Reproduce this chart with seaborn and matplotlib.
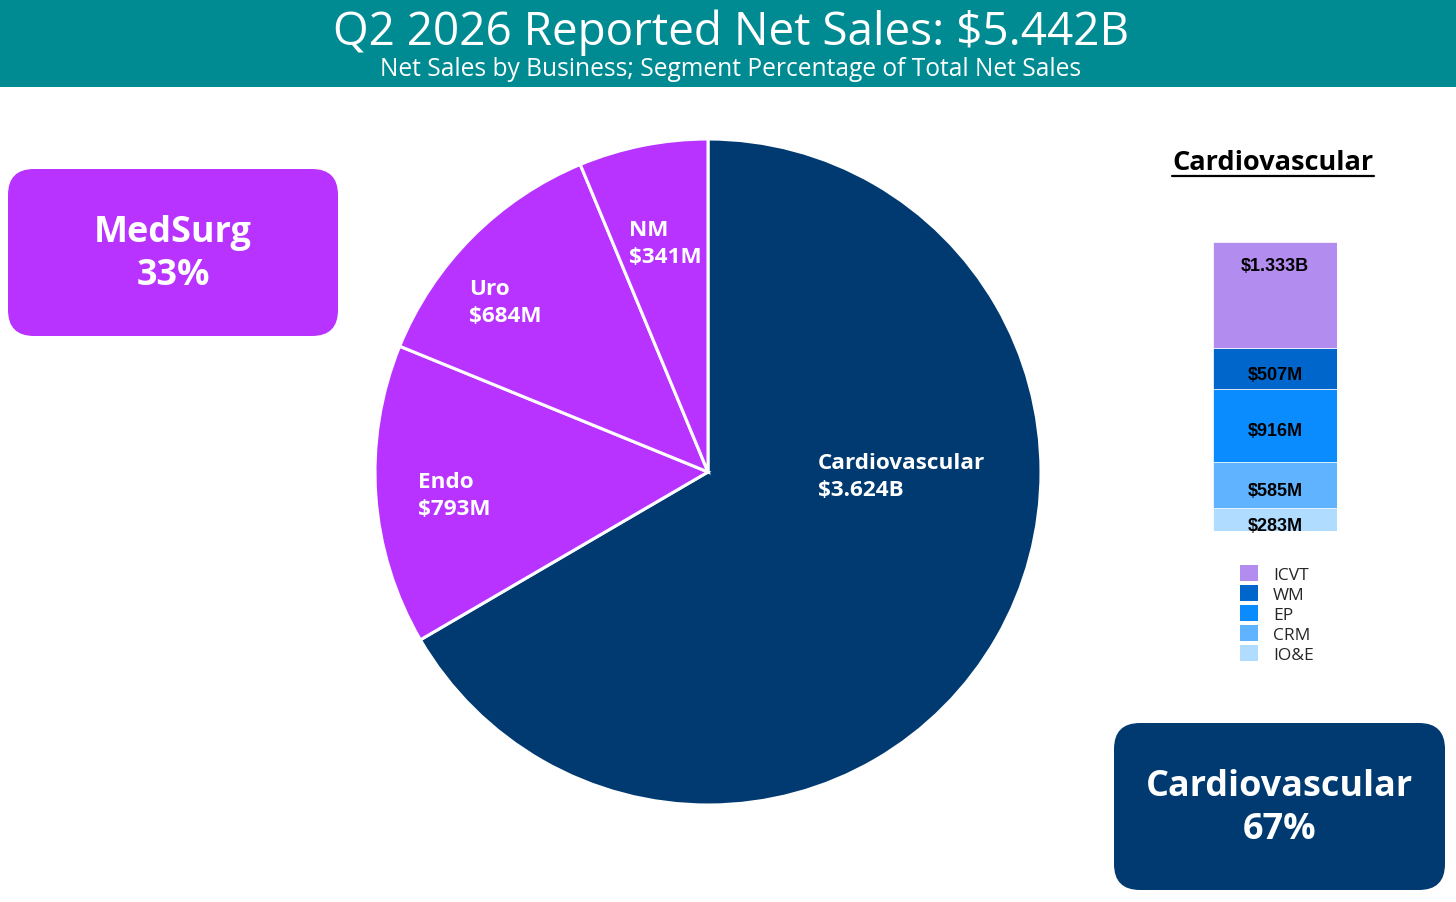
import matplotlib
matplotlib.use("Agg")
import matplotlib.pyplot as plt
import seaborn as sns
from matplotlib.patches import FancyBboxPatch, Rectangle, Patch
from matplotlib.lines import Line2D

# ---------------- data ----------------
title = "Q2 2026 Reported Net Sales: $5.442B"
subtitle = "Net Sales by Business; Segment Percentage of Total Net Sales"
segments = ["Cardiovascular", "Endo", "Uro", "NM"]
segment_sales = [3.624, 0.793, 0.684, 0.341]          # $B
segment_labels = ["Cardiovascular\n$3.624B", "Endo\n$793M", "Uro\n$684M", "NM\n$341M"]
groups = ["MedSurg", "Cardiovascular"]
group_pct = [33, 67]
cv_units = ["ICVT", "WM", "EP", "CRM", "IO&E"]
cv_sales = [1.333, 0.507, 0.916, 0.585, 0.283]        # $B
cv_labels = ["$1.333B", "$507M", "$916M", "$585M", "$283M"]

# ---------------- style ----------------
TEAL = "#008B93"
NAVY = "#003A70"
PURPLE = "#B833FF"
seg_colors = [NAVY, PURPLE, PURPLE, PURPLE]
cv_colors = ["#B38CF0", "#0066CC", "#0A8CFF", "#60B4FF", "#B0DCFF"]
FONT = "Open Sans"

sns.set_theme(style="white")
plt.rcParams['font.family'] = [FONT, 'DejaVu Sans']

W, H = 1456, 903
fig = plt.figure(figsize=(W / 100, H / 100), dpi=100)
fig.patch.set_facecolor("white")
renderer = fig.canvas.get_renderer()


def fit(t, target):
    w = t.get_window_extent(renderer).width
    t.set_fontsize(t.get_fontsize() * target / w)
    return t.get_fontsize()


# background axes in pixel coordinates
bg = fig.add_axes([0, 0, 1, 1])
bg.set_xlim(0, W)
bg.set_ylim(H, 0)
bg.axis("off")

# header band
bg.add_patch(Rectangle((0, 0), W, 88, facecolor=TEAL, edgecolor="none"))
t1 = bg.text(731, 33, title, ha="center", va="center", color="white",
             fontsize=30, fontweight="normal")
fit(t1, 797)
t2 = bg.text(731, 69, subtitle, ha="center", va="center", color="white",
             fontsize=16, fontweight="normal")
fit(t2, 701)

# group boxes
boxes = [(8, 170, 330, 167, PURPLE), (1114, 724, 331, 167, NAVY)]
box_texts = []
for (x, y, w, h, c), g, p in zip(boxes, groups, group_pct):
    bg.add_patch(FancyBboxPatch((x, y), w, h,
                                boxstyle="round,pad=0,rounding_size=26",
                                facecolor=c, edgecolor="none"))
    box_texts.append(bg.text(x + w / 2, y + h / 2 + 1, f"{g}\n{p}%", ha="center",
                             va="center", color="white", fontsize=24,
                             fontweight="bold", linespacing=1.28))
fs = fit(box_texts[1], 268)
box_texts[0].set_fontsize(fs)

# ---------------- pie ----------------
cx, cy, r = 708, 473, 333
pax = fig.add_axes([(cx - r) / W, (H - cy - r) / H, 2 * r / W, 2 * r / H])
pax.pie(segment_sales, colors=seg_colors, startangle=90, counterclock=False,
        wedgeprops=dict(edgecolor="white", linewidth=2.2))
pax.set_xlim(-1, 1)
pax.set_ylim(-1, 1)
pax.set_aspect("equal")
pax.axis("off")

label_pos = [(0.330, -0.012), (-0.871, -0.069), (-0.718, 0.511), (-0.237, 0.688)]
ptexts = []
for (lx, ly), lab in zip(label_pos, segment_labels):
    ptexts.append(pax.text(lx, ly, lab, ha="left", va="center", color="white",
                           fontsize=15, fontweight="bold", linespacing=1.36))
fs = fit(ptexts[0], 167)
for t in ptexts[1:]:
    t.set_fontsize(fs)

# ---------------- stacked bar ----------------
total_cv = sum(cv_sales)
bax = fig.add_axes([1213 / W, (H - 532) / H, 124 / W, 289 / H])
bottom = 0.0
stack = list(zip(cv_units, cv_sales, cv_colors, cv_labels))[::-1]
btexts = []
for unit, val, col, lab in stack:
    sns.barplot(x=[0], y=[val], bottom=bottom, color=col, width=1,
                saturation=1, ax=bax, edgecolor="white", linewidth=0.5)
    ty = bottom + val - 0.23 if val > 1.0 else bottom + val / 2
    btexts.append(bax.annotate(lab, (0, ty), xytext=(0, -4), textcoords="offset points",
                               ha="center", va="center", color="black",
                               fontsize=12, fontweight="bold",
                               family="Liberation Sans"))
    bottom += val
fs = fit(btexts[-1], 68)
for t in btexts[:-1]:
    t.set_fontsize(fs)
bax.set_xlim(-0.5, 0.5)
bax.set_ylim(0, total_cv)
bax.axis("off")

# title over bar with underline
t = bg.text(1273, 163, "Cardiovascular", ha="center", va="center",
            color="black", fontsize=18, fontweight="bold")
fit(t, 202)
bb = t.get_window_extent(renderer)
bg.add_line(Line2D([bb.x0, bb.x1], [176.5, 176.5], color="black", linewidth=1.6))

# legend
handles = [Patch(facecolor=c, edgecolor="none") for c in cv_colors]
fig.legend(handles, cv_units, loc="upper left",
           bbox_to_anchor=(1240 / W, 1 - 566 / H), frameon=False,
           fontsize=12.5, handlelength=1.05, handleheight=1.05,
           handletextpad=0.85, labelspacing=0.12, borderpad=0,
           borderaxespad=0)

fig.savefig("out.png", dpi=100)
